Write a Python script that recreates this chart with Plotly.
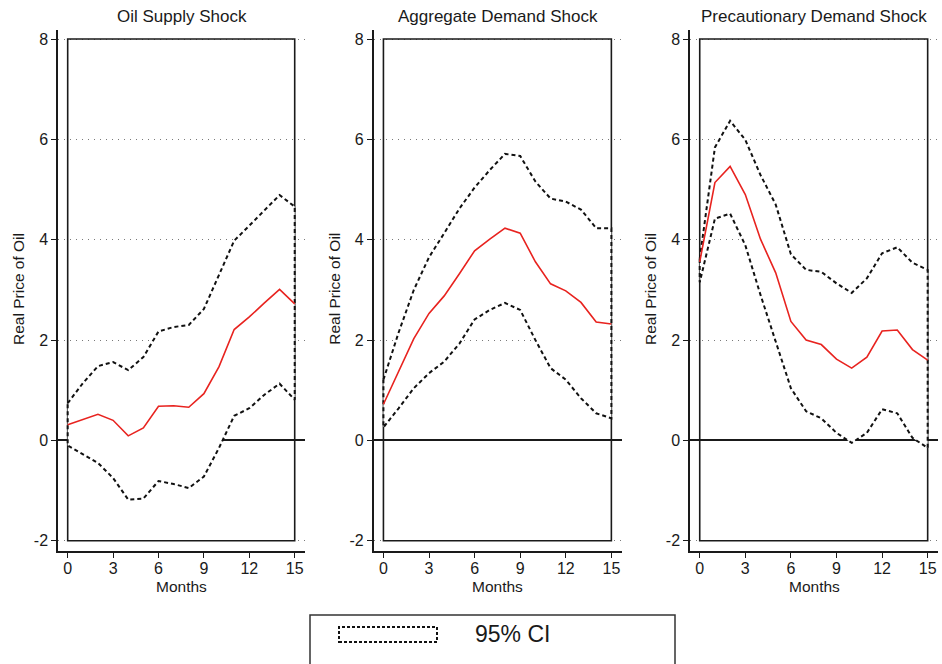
import plotly.graph_objects as go

W, H = 942, 664

months = list(range(16))
panel_titles = ["Oil Supply Shock", "Aggregate Demand Shock", "Precautionary Demand Shock"]
y_tick_vals = [-2, 0, 2, 4, 6, 8]
x_tick_vals = [0, 3, 6, 9, 12, 15]
y_label = "Real Price of Oil"
x_label = "Months"
legend_label = "95% CI"

supply_irf = [0.31, 0.41, 0.52, 0.40, 0.09, 0.25, 0.68, 0.69, 0.66, 0.93, 1.47, 2.21, 2.46, 2.74, 3.01, 2.72]
supply_upper = [0.74, 1.14, 1.48, 1.56, 1.40, 1.66, 2.17, 2.26, 2.30, 2.62, 3.30, 3.98, 4.28, 4.58, 4.89, 4.66]
supply_lower = [-0.10, -0.27, -0.45, -0.75, -1.18, -1.16, -0.81, -0.87, -0.95, -0.72, -0.15, 0.49, 0.64, 0.91, 1.13, 0.81]

agg_irf = [0.72, 1.38, 2.03, 2.53, 2.88, 3.32, 3.78, 4.01, 4.23, 4.13, 3.56, 3.12, 2.98, 2.75, 2.36, 2.32]
agg_upper = [1.21, 2.15, 3.00, 3.65, 4.13, 4.62, 5.04, 5.39, 5.71, 5.67, 5.16, 4.82, 4.76, 4.60, 4.23, 4.23]
agg_lower = [0.26, 0.64, 1.04, 1.34, 1.57, 1.93, 2.41, 2.60, 2.74, 2.60, 2.00, 1.44, 1.21, 0.84, 0.54, 0.44]

prec_irf = [3.56, 5.14, 5.46, 4.90, 4.01, 3.34, 2.37, 2.00, 1.91, 1.62, 1.44, 1.66, 2.18, 2.20, 1.81, 1.60]
prec_upper = [3.62, 5.84, 6.37, 5.99, 5.29, 4.70, 3.71, 3.40, 3.36, 3.13, 2.94, 3.23, 3.73, 3.85, 3.54, 3.40]
prec_lower = [3.15, 4.42, 4.52, 3.89, 2.90, 1.97, 1.04, 0.58, 0.44, 0.15, -0.05, 0.15, 0.62, 0.54, 0.05, -0.15]

series = [
    (supply_irf, supply_upper, supply_lower),
    (agg_irf, agg_upper, agg_lower),
    (prec_irf, prec_upper, prec_lower),
]

FONT = "Liberation Sans, Arial, Helvetica, sans-serif"
INK = "#1a1a1a"
RED = "#e8231f"

# pixel layout
x_domains_px = [(58, 305), (373.7, 621.7), (690, 938)]
y_top_px, y_bot_px = 30, 551
x_range = [-0.64, 15.68]
y_range = [-2.205, 8.18]

def px_x(p):
    return p / W

def px_y(p):
    return 1 - p / H

fig = go.Figure()
layout = dict(
    width=W, height=H,
    margin=dict(l=0, r=0, t=0, b=0),
    paper_bgcolor="white", plot_bgcolor="white",
    showlegend=False,
    font=dict(family=FONT, color=INK),
)

annotations = []
shapes = []

for i, ((irf, up, lo), title) in enumerate(zip(series, panel_titles)):
    n = i + 1
    xa = "x" if n == 1 else f"x{n}"
    ya = "y" if n == 1 else f"y{n}"
    xkey = "xaxis" if n == 1 else f"xaxis{n}"
    ykey = "yaxis" if n == 1 else f"yaxis{n}"
    d0, d1 = x_domains_px[i]
    layout[xkey] = dict(
        domain=[px_x(d0), px_x(d1)], range=x_range, anchor=ya,
        showgrid=False, zeroline=False,
        showline=True, linecolor=INK, linewidth=1.5,
        ticks="outside", ticklen=5, tickwidth=1.3, tickcolor=INK,
        tickvals=x_tick_vals, ticktext=[str(v) for v in x_tick_vals],
        tickfont=dict(size=16, family=FONT, color=INK),
        ticklabelstandoff=-3,
        automargin=False, fixedrange=True,
    )
    layout[ykey] = dict(
        domain=[px_y(y_bot_px), px_y(y_top_px)], range=y_range, anchor=xa,
        showgrid=True, gridcolor="#7a7a7a", gridwidth=1.2, griddash="1px,5px",
        zeroline=True, zerolinecolor=INK, zerolinewidth=1.5,
        showline=True, linecolor=INK, linewidth=1.5,
        ticks="outside", ticklen=5, tickwidth=1.3, tickcolor=INK,
        tickvals=y_tick_vals, ticktext=[str(v) for v in y_tick_vals],
        tickfont=dict(size=16, family=FONT, color=INK),
        automargin=False, fixedrange=True,
    )
    # plot-region box spanning the data extent
    shapes.append(dict(
        type="rect", xref=xa, yref=ya,
        x0=months[0], x1=months[-1], y0=y_tick_vals[0], y1=y_tick_vals[-1],
        line=dict(color=INK, width=1.6), fillcolor="rgba(0,0,0,0)", layer="between",
    ))
    # CI area: white fill with dashed outline
    ci_x = months + months[::-1] + [months[0]]
    ci_y = up + lo[::-1] + [up[0]]
    fig.add_trace(go.Scatter(
        x=ci_x, y=ci_y, xaxis=xa, yaxis=ya, mode="lines",
        fill="toself", fillcolor="white",
        line=dict(color="#111111", width=2, dash="4px,3px"),
        hoverinfo="skip",
    ))
    fig.add_trace(go.Scatter(
        x=months, y=irf, xaxis=xa, yaxis=ya, mode="lines",
        line=dict(color=RED, width=1.6),
        hoverinfo="skip",
    ))
    cx = (d0 + d1) / 2
    annotations.append(dict(
        text=title, x=px_x(cx), y=px_y(17), xref="paper", yref="paper",
        showarrow=False, xanchor="center", yanchor="middle",
        font=dict(size=17, family=FONT, color=INK),
    ))
    annotations.append(dict(
        text=x_label, x=px_x(cx), y=px_y(586), xref="paper", yref="paper",
        showarrow=False, xanchor="center", yanchor="middle",
        font=dict(size=15.5, family=FONT, color=INK),
    ))
    annotations.append(dict(
        text=y_label, x=px_x(d0 - 40), y=px_y(289), xref="paper", yref="paper",
        showarrow=False, xanchor="center", yanchor="middle", textangle=-90,
        font=dict(size=15.5, family=FONT, color=INK),
    ))

# legend box
shapes.append(dict(
    type="rect", xref="paper", yref="paper",
    x0=px_x(310), x1=px_x(675), y0=px_y(680), y1=px_y(615),
    line=dict(color="#333333", width=1.5), fillcolor="white", layer="above",
))
shapes.append(dict(
    type="rect", xref="paper", yref="paper",
    x0=px_x(339), x1=px_x(437), y0=px_y(642), y1=px_y(627),
    line=dict(color="#111111", width=2, dash="3px,2px"), fillcolor="white", layer="above",
))
annotations.append(dict(
    text=legend_label, x=px_x(473), y=px_y(634), xref="paper", yref="paper",
    showarrow=False, xanchor="left", yanchor="middle",
    font=dict(size=23, family=FONT, color=INK),
))

layout["annotations"] = annotations
layout["shapes"] = shapes
fig.update_layout(**layout)

fig.write_html("out.html")
